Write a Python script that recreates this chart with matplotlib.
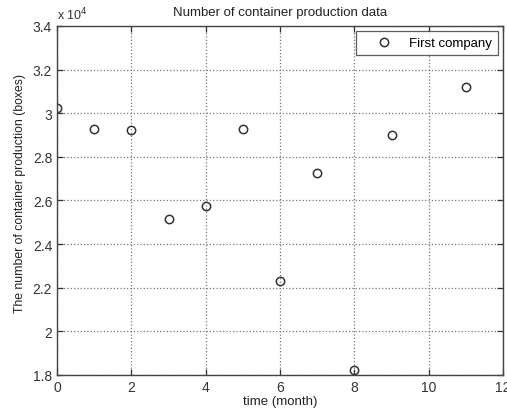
import matplotlib
matplotlib.use("Agg")
import matplotlib.pyplot as plt
from matplotlib.ticker import FuncFormatter

plt.rcParams['font.family'] = ['Liberation Sans', 'DejaVu Sans']

# datos
months = [0, 1, 2, 3, 4, 5, 6, 7, 8, 9, 11]
production = [30260, 29300, 29250, 25140, 25750, 29300, 22330, 27250, 18230, 28980, 31190]

fig = plt.figure(figsize=(5.07, 4.14), dpi=100)
ax = fig.add_axes([0.1124, 0.0918, 0.880, 0.843])

ax.plot(months, production, 'o', markerfacecolor='none', markeredgecolor='#333333',
        markeredgewidth=1.1, markersize=6, label='First company')

ax.set_xlim(0, 12)
ax.set_ylim(18000, 34000)
ax.set_xticks(range(0, 13, 2))
ax.set_yticks([18000 + 2000 * i for i in range(9)])
ax.yaxis.set_major_formatter(FuncFormatter(lambda v, p: '%g' % (v / 1e4)))

ax.grid(True, linestyle=':', color='#777777', linewidth=0.9)
ax.tick_params(direction='in', top=True, right=True, labelsize=10, colors='#333333',
               length=4, width=0.9)
for s in ax.spines.values():
    s.set_color('#444444')
    s.set_linewidth(1.0)

ax.text(0.0, 1.012, 'x 10$^4$', transform=ax.transAxes, fontsize=9, color='#333333',
        ha='left', va='bottom')
ax.set_title('Number of container production data', fontsize=9.5, color='#222222', pad=8)
ax.set_xlabel('time (month)', fontsize=9.5, color='#222222', labelpad=1)
ax.set_ylabel('The number of container production (boxes)', fontsize=8.8, color='#222222')
ax.yaxis.set_label_coords(-0.07, 0.524)

leg = ax.legend(loc='upper right', fontsize=9.5, fancybox=False, edgecolor='#333333',
                borderpad=0.45, handletextpad=0.2, borderaxespad=0.4, handlelength=3.4)
leg.get_frame().set_linewidth(0.9)

fig.savefig('out.png', dpi=100)
